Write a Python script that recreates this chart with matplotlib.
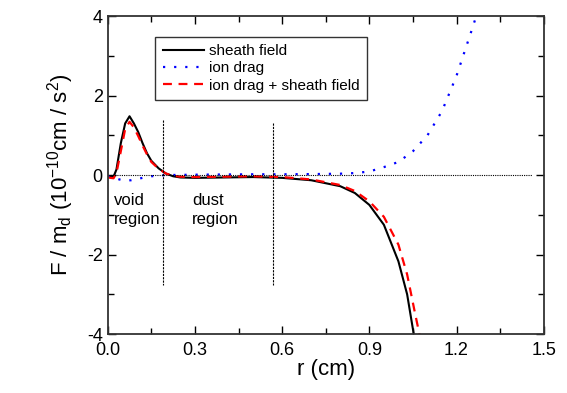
import matplotlib.pyplot as plt
from matplotlib.ticker import MultipleLocator

# sheath field (black solid)
r_sheath = [0.0, 0.02, 0.03, 0.045, 0.06, 0.075, 0.09, 0.105, 0.12, 0.135, 0.15,
            0.175, 0.2, 0.225, 0.25, 0.3, 0.4, 0.5, 0.6, 0.7, 0.8, 0.85, 0.9,
            0.95, 1.0, 1.03, 1.055]
f_sheath = [-0.04, -0.04, 0.14, 0.8, 1.30, 1.48, 1.30, 1.08, 0.80, 0.55, 0.36,
            0.17, 0.04, -0.03, -0.06, -0.07, -0.06, -0.05, -0.07, -0.13, -0.28,
            -0.45, -0.75, -1.25, -2.17, -3.0, -4.1]

# ion drag (blue dotted)
r_drag = [0.0, 0.02, 0.04, 0.06, 0.08, 0.10, 0.12, 0.15, 0.2, 0.3, 0.4, 0.5,
          0.6, 0.7, 0.8, 0.85, 0.9, 0.95, 1.0, 1.05, 1.1, 1.15, 1.2, 1.25, 1.27]
f_drag = [-0.02, -0.06, -0.11, -0.14, -0.13, -0.10, -0.07, -0.03, 0.0, 0.01,
          0.015, 0.02, 0.02, 0.025, 0.035, 0.05, 0.09, 0.2, 0.33, 0.6, 1.0,
          1.61, 2.5, 3.6, 4.05]

# ion drag + sheath field (red dashed)
r_sum = [0.0, 0.02, 0.03, 0.045, 0.06, 0.075, 0.09, 0.105, 0.12, 0.135, 0.15,
         0.175, 0.2, 0.225, 0.25, 0.3, 0.4, 0.5, 0.6, 0.7, 0.8, 0.85, 0.9,
         0.95, 1.0, 1.03, 1.055, 1.075]
f_sum = [-0.06, -0.08, 0.05, 0.6, 1.16, 1.34, 1.20, 0.98, 0.74, 0.52, 0.33,
         0.16, 0.04, -0.02, -0.04, -0.05, -0.04, -0.03, -0.05, -0.11, -0.25,
         -0.40, -0.66, -1.05, -1.75, -2.5, -3.4, -4.1]

plt.rcParams['font.family'] = ['Liberation Sans', 'DejaVu Sans']
plt.rcParams['mathtext.default'] = 'regular'
plt.rcParams['axes.unicode_minus'] = False

fig = plt.figure(figsize=(5.67, 3.93), dpi=100)
ax = fig.add_axes([0.190, 0.150, 0.769, 0.809])

ax.plot(r_sheath, f_sheath, color='black', lw=1.5, label='sheath field')
ax.plot(r_drag, f_drag, color='blue', lw=1.6, linestyle=(0, (1, 4)),
        label='ion drag')
ax.plot(r_sum, f_sum, color='red', lw=1.6, linestyle=(0, (4, 3)),
        label='ion drag + sheath field')

# zero line and region separators
ax.plot([0, 1.46], [0, 0], color='black', lw=0.8, linestyle=(0, (1, 1)))
ax.plot([0.189, 0.189], [1.38, -2.77], color='black', lw=0.8,
        linestyle=(0, (2, 1)))
ax.plot([0.568, 0.568], [1.31, -2.77], color='black', lw=0.8,
        linestyle=(0, (2, 1)))

ax.text(0.02, -0.45, 'void\nregion', fontsize=12, va='top', linespacing=1.3)
ax.text(0.29, -0.45, 'dust\nregion', fontsize=12, va='top', linespacing=1.3)

ax.set_xlim(0, 1.5)
ax.set_ylim(-4, 4)
ax.xaxis.set_major_locator(MultipleLocator(0.3))
ax.xaxis.set_minor_locator(MultipleLocator(0.15))
ax.yaxis.set_major_locator(MultipleLocator(2))
ax.yaxis.set_minor_locator(MultipleLocator(1))
ax.xaxis.set_major_formatter(plt.FormatStrFormatter('%.1f'))
ax.tick_params(which='both', direction='in', top=True, right=True,
               labelsize=13, width=1)
ax.tick_params(which='major', length=6)
ax.tick_params(which='minor', length=4)
ax.tick_params(axis='x', pad=6)
for s in ax.spines.values():
    s.set_linewidth(1.3)
    s.set_color('#333333')

ax.set_xlabel('r (cm)', fontsize=16, labelpad=0)
ax.set_ylabel('F / m$_d$ (10$^{-10}$cm / s$^2$)', fontsize=16, labelpad=8)

leg = ax.legend(loc='upper left', bbox_to_anchor=(0.109, 0.935), fontsize=11,
                frameon=True, fancybox=False, handlelength=2.7,
                handletextpad=0.3, labelspacing=0.2, borderpad=0.5,
                borderaxespad=0)
leg.get_frame().set_edgecolor('black')
leg.get_frame().set_linewidth(1.0)

fig.savefig('out.png', dpi=100)
